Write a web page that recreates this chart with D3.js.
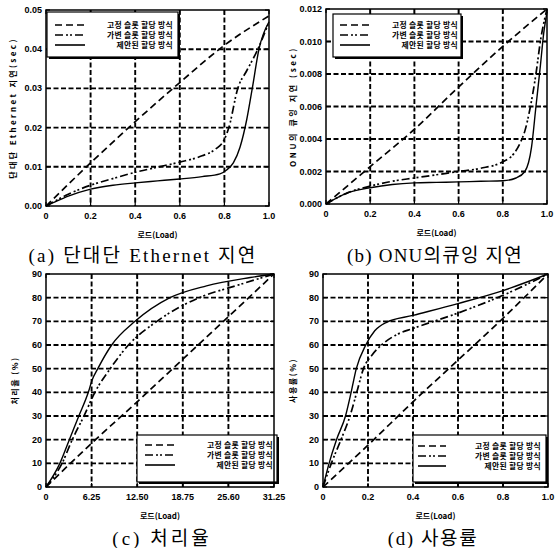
<!DOCTYPE html>
<html>
<head>
<meta charset="utf-8">
<script src="https://cdn.jsdelivr.net/npm/d3@7"></script>
<style>
  body { margin: 0; background: #fff; }
  svg { display: block; }
  .tick-label { font-family: "Liberation Sans", Arial, sans-serif; font-weight: bold; font-size: 9px; fill: #000; }
  .axis-title { font-family: "Noto Sans CJK KR", "Liberation Sans", sans-serif; font-weight: bold; font-size: 8px; fill: #000; }
  .legend-text { font-family: "Noto Sans CJK KR", sans-serif; font-weight: bold; font-size: 7.8px; fill: #000; }
  .caption { font-family: "Liberation Serif", "Noto Sans CJK KR", serif; font-size: 19px; fill: #000; }
</style>
</head>
<body>
<svg width="559" height="548"></svg>
<script>
    // series names shared by all four panels
    var seriesNames = ['고정 슬롯 할당 방식', '가변 슬롯 할당 방식', '제안된 할당 방식'];

    // (a) end-to-end ethernet delay
    var aFixed = [[0, 0], [0.2, 0.011], [0.4, 0.0215], [0.6, 0.0315], [0.8, 0.041], [1.0, 0.0485]];
    var aVariable = [[0, 0], [0.1, 0.003], [0.2, 0.0053], [0.3, 0.007], [0.4, 0.0086], [0.5, 0.0099], [0.6, 0.0112],
        [0.7, 0.0128], [0.76, 0.0145], [0.8, 0.017], [0.82, 0.02], [0.86, 0.03], [0.9, 0.0345], [0.95, 0.04], [1.0, 0.047]];
    var aProposed = [[0, 0], [0.05, 0.0013], [0.1, 0.0025], [0.2, 0.0043], [0.3, 0.0053], [0.4, 0.0059], [0.5, 0.0064],
        [0.6, 0.0069], [0.7, 0.0075], [0.78, 0.0082], [0.81, 0.0092], [0.84, 0.011], [0.87, 0.015], [0.9, 0.022],
        [0.925, 0.03], [0.955, 0.04], [1.0, 0.047]];

    // (b) ONU queueing delay
    var bFixed = [[0, 0], [0.2, 0.0023], [0.4, 0.0046], [0.6, 0.0072], [0.8, 0.0097], [1.0, 0.012]];
    var bVariable = [[0, 0], [0.1, 0.0007], [0.2, 0.0011], [0.3, 0.0014], [0.4, 0.0016], [0.5, 0.0018], [0.6, 0.002],
        [0.7, 0.0022], [0.8, 0.0026], [0.85, 0.0031], [0.88, 0.0038], [0.9, 0.0045], [0.925, 0.006], [0.95, 0.008],
        [0.97, 0.01], [1.0, 0.012]];
    var bProposed = [[0, 0], [0.1, 0.0007], [0.2, 0.001], [0.3, 0.0012], [0.4, 0.0013], [0.5, 0.00133], [0.6, 0.00136],
        [0.7, 0.0014], [0.8, 0.00143], [0.86, 0.0016], [0.9, 0.002], [0.93, 0.0035], [0.95, 0.006], [0.97, 0.0085],
        [0.985, 0.0105], [1.0, 0.0118]];

    // (c) throughput
    var cFixed = [[0, 0], [6.25, 18.5], [12.5, 36], [18.75, 54], [25, 72], [31.25, 90]];
    var cVariable = [[0, 0], [2.2, 10], [3.6, 20], [5.2, 30], [6.7, 40], [8.8, 50], [11.3, 60], [15.2, 70], [21, 80],
        [26, 85], [31.25, 90]];
    var cProposed = [[0, 0], [1.9, 10], [3.2, 20], [4.5, 30], [5.8, 40], [6.3, 45], [7.1, 50], [9, 60], [12.2, 70],
        [17, 80], [22, 85], [28, 88.5], [31.25, 90]];

    // (d) utilization
    var dFixed = [[0, 0], [0.2, 17.7], [0.4, 36], [0.6, 53.6], [0.8, 71.3], [1.0, 90]];
    var dVariable = [[0, 0], [0.037, 10], [0.08, 20], [0.12, 30], [0.15, 40], [0.18, 50], [0.22, 56], [0.26, 60],
        [0.33, 64.5], [0.4, 67], [0.6, 73.5], [0.8, 81], [1.0, 90]];
    var dProposed = [[0, 0], [0.027, 10], [0.06, 20], [0.1, 30], [0.125, 40], [0.148, 50], [0.19, 60], [0.23, 66],
        [0.28, 69.5], [0.4, 72.5], [0.6, 77.5], [0.8, 83], [1.0, 90]];

    // tick values and labels
    var loadTicks = [0, 0.2, 0.4, 0.6, 0.8, 1.0];
    var loadTickLabels = ['0', '0.2', '0.4', '0.6', '0.8', '1.0'];
    var cLoadTicks = [0, 6.25, 12.5, 18.75, 25, 31.25];
    var cLoadTickLabels = ['0', '6.25', '12.50', '18.75', '25.60', '31.25'];
    var aDelayTicks = [0, 0.01, 0.02, 0.03, 0.04, 0.05];
    var aDelayTickLabels = ['0.00', '0.01', '0.02', '0.03', '0.04', '0.05'];
    var bDelayTicks = [0, 0.002, 0.004, 0.006, 0.008, 0.010, 0.012];
    var bDelayTickLabels = ['0.000', '0.002', '0.004', '0.006', '0.008', '0.010', '0.012'];
    var percentTicks = [0, 10, 20, 30, 40, 50, 60, 70, 80, 90];
    var percentTickLabels = ['0', '10', '20', '30', '40', '50', '60', '70', '80', '90'];

    var dashes = ['7,4', '8,3,2,2,2,3', null];

    var panels = [
        {left: 46, right: 269, top: 10, bottom: 206, xDomain: [0, 1], yDomain: [0, 0.05],
            xTicks: loadTicks, xLabels: loadTickLabels, yTicks: aDelayTicks, yLabels: aDelayTickLabels,
            series: [aFixed, aVariable, aProposed],
            yTitle: '단대단 Ethernet 지연(sec)', yTitleX: 13, yTitleSpacing: 2.4,
            caption: '(a) 단대단 Ethernet 지연', captionX: 143, captionY: 262, captionSpacing: 2.2,
            legend: {x: 47, y: 12, w: 131, h: 45, rows: [25, 35, 45], lx: 55, lw: 30, tx: 173}},
        {left: 326, right: 547, top: 9, bottom: 204, xDomain: [0, 1], yDomain: [0, 0.012],
            xTicks: loadTicks, xLabels: loadTickLabels, yTicks: bDelayTicks, yLabels: bDelayTickLabels,
            series: [bFixed, bVariable, bProposed],
            yTitle: 'ONU의 큐잉 지연 (sec)', yTitleX: 293, yTitleSpacing: 2.6,
            caption: '(b) ONU의큐잉 지연', captionX: 435, captionY: 262, captionSpacing: 1.2,
            legend: {x: 333, y: 14, w: 128, h: 43, rows: [25, 35, 45], lx: 340, lw: 30, tx: 458}},
        {left: 46, right: 274, top: 274, bottom: 487, xDomain: [0, 31.25], yDomain: [0, 90],
            xTicks: cLoadTicks, xLabels: cLoadTickLabels, yTicks: percentTicks, yLabels: percentTickLabels,
            series: [cFixed, cVariable, cProposed],
            yTitle: '처리율 (%)', yTitleX: 15, yTitleSpacing: 1.5,
            caption: '(c) 처리율', captionX: 162, captionY: 545, captionSpacing: 3,
            legend: {x: 137, y: 435, w: 140, h: 47, rows: [445, 455, 465], lx: 145, lw: 30, tx: 273}},
        {left: 323, right: 548, top: 274, bottom: 487, xDomain: [0, 1], yDomain: [0, 90],
            xTicks: loadTicks, xLabels: loadTickLabels, yTicks: percentTicks, yLabels: percentTickLabels,
            series: [dFixed, dVariable, dProposed],
            yTitle: '사용률(%)', yTitleX: 293, yTitleSpacing: 1.5,
            caption: '(d) 사용률', captionX: 433, captionY: 545, captionSpacing: 1.6,
            legend: {x: 413, y: 435, w: 133, h: 47, rows: [446, 456, 466], lx: 418, lw: 28, tx: 541}}
    ];

    var svg = d3.select("svg");

    function drawPanel(p) {
        var x = d3.scaleLinear().domain(p.xDomain).range([p.left, p.right]);
        var y = d3.scaleLinear().domain(p.yDomain).range([p.bottom, p.top]);
        var g = svg.append("g");

        // dashed grid
        g.selectAll(".vgrid")
            .data(p.xTicks.slice(1, -1))
            .enter().append("line")
            .attr("x1", function (d) { return x(d); })
            .attr("x2", function (d) { return x(d); })
            .attr("y1", p.top).attr("y2", p.bottom)
            .attr("stroke", "#000").attr("stroke-width", 1.9).attr("stroke-dasharray", "5,2.5");

        g.selectAll(".hgrid")
            .data(p.yTicks.slice(1, -1))
            .enter().append("line")
            .attr("y1", function (d) { return y(d); })
            .attr("y2", function (d) { return y(d); })
            .attr("x1", p.left).attr("x2", p.right)
            .attr("stroke", "#000").attr("stroke-width", 1.9).attr("stroke-dasharray", "5,2.5");

        // inward ticks on all four sides
        var tickLen = 4;
        p.xTicks.forEach(function (t) {
            g.append("line").attr("x1", x(t)).attr("x2", x(t)).attr("y1", p.bottom).attr("y2", p.bottom - tickLen)
                .attr("stroke", "#000").attr("stroke-width", 1.2);
            g.append("line").attr("x1", x(t)).attr("x2", x(t)).attr("y1", p.top).attr("y2", p.top + tickLen)
                .attr("stroke", "#000").attr("stroke-width", 1.2);
        });
        p.yTicks.forEach(function (t) {
            g.append("line").attr("y1", y(t)).attr("y2", y(t)).attr("x1", p.left).attr("x2", p.left + tickLen)
                .attr("stroke", "#000").attr("stroke-width", 1.2);
            g.append("line").attr("y1", y(t)).attr("y2", y(t)).attr("x1", p.right).attr("x2", p.right - tickLen)
                .attr("stroke", "#000").attr("stroke-width", 1.2);
        });

        // tick labels
        g.selectAll(".xl")
            .data(p.xTicks)
            .enter().append("text")
            .attr("class", "tick-label")
            .attr("x", function (d) { return x(d); })
            .attr("y", p.bottom + 13)
            .attr("text-anchor", "middle")
            .text(function (d, i) { return p.xLabels[i]; });

        g.selectAll(".yl")
            .data(p.yTicks)
            .enter().append("text")
            .attr("class", "tick-label")
            .attr("x", p.left - 4)
            .attr("y", function (d) { return y(d) + 3; })
            .attr("text-anchor", "end")
            .text(function (d, i) { return p.yLabels[i]; });

        // axis titles
        g.append("text")
            .attr("class", "axis-title")
            .attr("x", (p.left + p.right) / 2)
            .attr("y", p.bottom + 32)
            .attr("text-anchor", "middle")
            .text("로드(Load)");

        g.append("text")
            .attr("class", "axis-title")
            .attr("transform", "translate(" + p.yTitleX + "," + ((p.top + p.bottom) / 2) + ") rotate(-90)")
            .attr("dy", "0.35em")
            .attr("text-anchor", "middle")
            .style("letter-spacing", p.yTitleSpacing + "px")
            .text(p.yTitle);

        // series
        var line = d3.line()
            .x(function (d) { return x(d[0]); })
            .y(function (d) { return y(d[1]); })
            .curve(d3.curveMonotoneX);

        p.series.forEach(function (s, i) {
            g.append("path")
                .datum(s)
                .attr("d", line)
                .attr("fill", "none")
                .attr("stroke", "#000")
                .attr("stroke-width", i === 2 ? 1.4 : 1.7)
                .attr("stroke-dasharray", dashes[i]);
        });

        // legend
        var L = p.legend;
        g.append("rect")
            .attr("x", L.x + 2).attr("y", L.y + 2).attr("width", L.w).attr("height", L.h)
            .attr("fill", "#000");
        g.append("rect")
            .attr("x", L.x).attr("y", L.y).attr("width", L.w).attr("height", L.h)
            .attr("fill", "#fff").attr("stroke", "#000").attr("stroke-width", 1.2);

        seriesNames.forEach(function (name, i) {
            g.append("line")
                .attr("x1", L.lx).attr("x2", L.lx + L.lw)
                .attr("y1", L.rows[i]).attr("y2", L.rows[i])
                .attr("stroke", "#000").attr("stroke-width", 1.6)
                .attr("stroke-dasharray", dashes[i]);
            g.append("text")
                .attr("class", "legend-text")
                .attr("x", L.tx).attr("y", L.rows[i] + 3)
                .attr("text-anchor", "end")
                .style("letter-spacing", "0.3px")
                .text(name);
        });

        // frame
        g.append("rect")
            .attr("x", p.left).attr("y", p.top)
            .attr("width", p.right - p.left).attr("height", p.bottom - p.top)
            .attr("fill", "none").attr("stroke", "#000").attr("stroke-width", 1.5);

        // caption
        g.append("text")
            .attr("class", "caption")
            .attr("x", p.captionX).attr("y", p.captionY)
            .attr("text-anchor", "middle")
            .style("letter-spacing", p.captionSpacing + "px")
            .text(p.caption);
    }

    panels.forEach(drawPanel);
</script>
</body>
</html>
